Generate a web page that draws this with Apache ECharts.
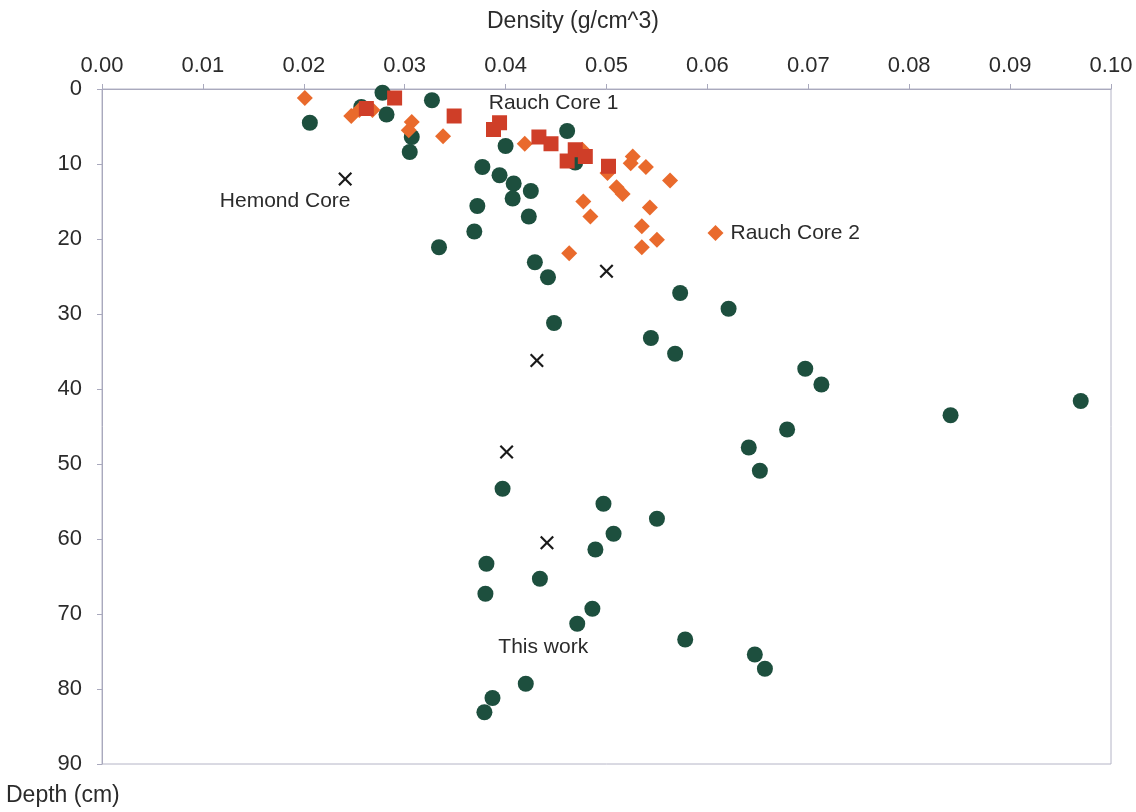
<!DOCTYPE html>
<html>
<head>
<meta charset="utf-8">
<script src="https://cdn.jsdelivr.net/npm/echarts@6/dist/echarts.min.js"></script>
<style>
  html, body { margin: 0; padding: 0; background: #ffffff; }
  #chart { width: 1136px; height: 812px; }
</style>
</head>
<body>
<div id="chart"></div>
<script>
// ---- Data: [density (g/cm^3), depth (cm)] ----
const thisWork = [
  [0.0278, 0.5], [0.0327, 1.5], [0.0257, 2.4], [0.0282, 3.4], [0.0206, 4.5],
  [0.0461, 5.6], [0.0307, 6.4], [0.0400, 7.6], [0.0305, 8.4], [0.0469, 9.8],
  [0.0377, 10.4], [0.0394, 11.5], [0.0408, 12.6], [0.0425, 13.6], [0.0407, 14.6],
  [0.0372, 15.6], [0.0423, 17.0], [0.0369, 19.0], [0.0334, 21.1], [0.0429, 23.1],
  [0.0442, 25.1], [0.0573, 27.2], [0.0621, 29.3], [0.0448, 31.2], [0.0544, 33.2],
  [0.0568, 35.3], [0.0697, 37.3], [0.0713, 39.4], [0.0970, 41.6], [0.0841, 43.5],
  [0.0679, 45.4], [0.0641, 47.8], [0.0652, 50.9], [0.0397, 53.3], [0.0497, 55.3],
  [0.0550, 57.3], [0.0507, 59.3], [0.0489, 61.4], [0.0381, 63.3], [0.0434, 65.3],
  [0.0380, 67.3], [0.0486, 69.3], [0.0471, 71.3], [0.0578, 73.4], [0.0647, 75.4],
  [0.0657, 77.3], [0.0420, 79.3], [0.0387, 81.2], [0.0379, 83.1]
];
const rauchCore1 = [
  [0.0290, 1.2], [0.0262, 2.6], [0.0349, 3.6], [0.0394, 4.5], [0.0388, 5.4],
  [0.0433, 6.4], [0.0445, 7.3], [0.0469, 8.1], [0.0479, 9.0], [0.0461, 9.6],
  [0.0502, 10.3]
];
const rauchCore2 = [
  [0.0201, 1.2], [0.0247, 3.6], [0.0255, 2.8], [0.0268, 2.8], [0.0307, 4.4],
  [0.0304, 5.5], [0.0338, 6.3], [0.0419, 7.3], [0.0476, 8.1], [0.0526, 9.0],
  [0.0524, 9.9], [0.0539, 10.4], [0.0501, 11.2], [0.0563, 12.2], [0.0510, 13.1],
  [0.0516, 14.0], [0.0477, 15.0], [0.0543, 15.8], [0.0484, 17.0], [0.0535, 18.3],
  [0.0608, 19.2], [0.0550, 20.1], [0.0535, 21.1], [0.0463, 21.9]
];
const hemondCore = [
  [0.0241, 12.0], [0.0500, 24.3], [0.0431, 36.2], [0.0401, 48.4], [0.0441, 60.5]
];

// Series names and which point carries the series' text label
const seriesNames = ['This work', 'Rauch Core 1', 'Rauch Core 2', 'Hemond Core'];
const labelPointIndex = { 'This work': 42, 'Rauch Core 1': 3, 'Rauch Core 2': 20, 'Hemond Core': 0 };

const FONT = 'Liberation Sans, Arial, sans-serif';
const TXT = '#2b2b2b';

function withLabel(data, name, labelOpt) {
  return data.map((p, i) => {
    if (i !== labelPointIndex[name]) return p;
    return { value: p, label: Object.assign({ show: true, formatter: name,
      fontFamily: FONT, fontSize: 21, color: TXT }, labelOpt) };
  });
}

const crossPath = 'path://M0,1.1L1.1,0L5,3.9L8.9,0L10,1.1L6.1,5L10,8.9L8.9,10L5,6.1L1.1,10L0,8.9L3.9,5Z';

const chart = echarts.init(document.getElementById('chart'), null, { renderer: 'canvas' });
chart.setOption({
  animation: false,
  backgroundColor: '#ffffff',
  title: [
    { text: 'Density (g/cm^3)', left: 487, top: 10, padding: 0,
      textStyle: { fontFamily: FONT, fontSize: 23, fontWeight: 'normal', color: TXT } },
    { text: 'Depth (cm)', left: 6, top: 784, padding: 0,
      textStyle: { fontFamily: FONT, fontSize: 23, fontWeight: 'normal', color: TXT } }
  ],
  grid: { left: 102, top: 89, right: 25, bottom: 48, show: true,
    borderColor: '#b4b4c6', borderWidth: 1, backgroundColor: 'transparent' },
  xAxis: {
    type: 'value', position: 'top', min: 0, max: 0.1, interval: 0.01,
    axisLine: { show: true, lineStyle: { color: '#a9a9bd', width: 1 } },
    axisTick: { show: true, inside: false, length: 5, lineStyle: { color: '#a9a9bd' } },
    splitLine: { show: false },
    axisLabel: { margin: 12, fontFamily: FONT, fontSize: 22, color: TXT,
      formatter: v => v.toFixed(2) }
  },
  yAxis: {
    type: 'value', inverse: true, min: 0, max: 90, interval: 10,
    axisLine: { show: true, lineStyle: { color: '#a9a9bd', width: 1 } },
    axisTick: { show: true, inside: false, length: 5, lineStyle: { color: '#a9a9bd' } },
    splitLine: { show: false },
    axisLabel: { margin: 20, fontFamily: FONT, fontSize: 22, color: TXT }
  },
  series: [
    { name: seriesNames[0], type: 'scatter', symbol: 'circle', symbolSize: 16,
      itemStyle: { color: '#1d4f3e', opacity: 1 }, z: 2,
      data: withLabel(thisWork, seriesNames[0], { position: 'inside', offset: [-34, 23] }) },
    { name: seriesNames[2], type: 'scatter', symbol: 'diamond', symbolSize: 16,
      itemStyle: { color: '#e96a2c', opacity: 1 }, z: 3,
      data: withLabel(rauchCore2, seriesNames[2], { position: 'right', distance: 7 }) },
    { name: seriesNames[1], type: 'scatter', symbol: 'rect', symbolSize: 15,
      itemStyle: { color: '#cf3e28', opacity: 1 }, z: 4,
      data: withLabel(rauchCore1, seriesNames[1], { position: 'inside', offset: [54, -20] }) },
    { name: seriesNames[3], type: 'scatter', symbol: crossPath, symbolSize: 14,
      itemStyle: { color: '#1a1a1a', opacity: 1 }, z: 5,
      data: withLabel(hemondCore, seriesNames[3], { position: 'inside', offset: [-60, 22] }) }
  ]
});
</script>
</body>
</html>
